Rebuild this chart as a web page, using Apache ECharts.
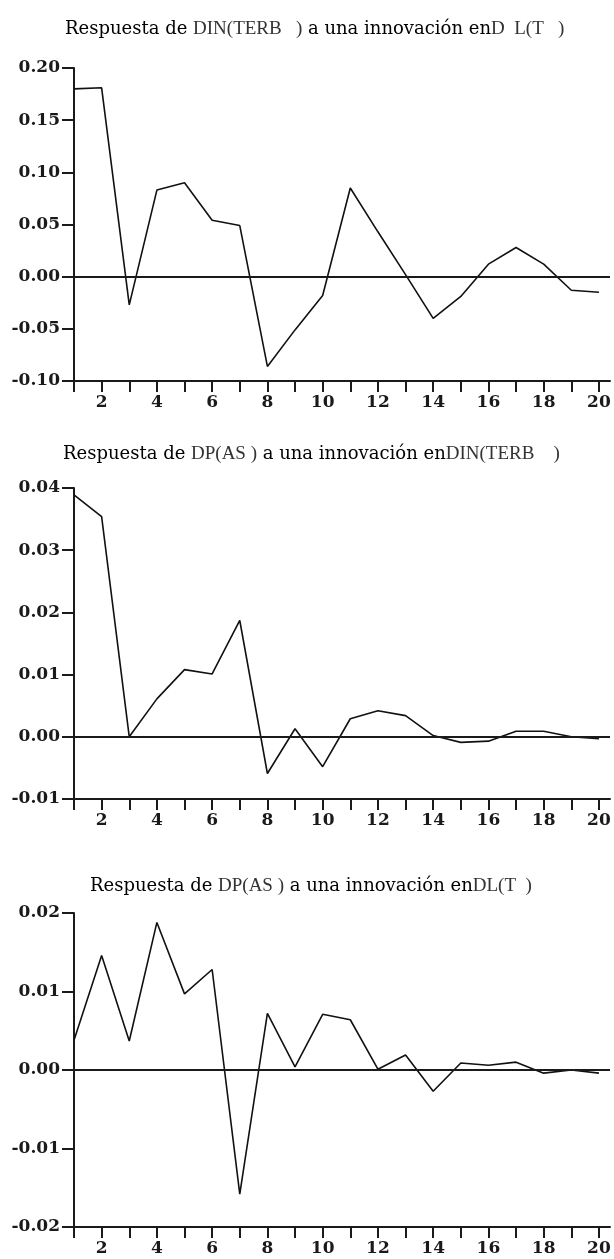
<!DOCTYPE html>
<html>
<head>
<meta charset="utf-8">
<script src="https://cdn.jsdelivr.net/npm/echarts@6/dist/echarts.min.js"></script>
<style>
html,body{margin:0;padding:0;background:#fff;}
#c{width:614px;height:1259px;}
</style>
</head>
<body>
<div id="c"></div>
<script>
// Horizon (periods)
const periods = [1,2,3,4,5,6,7,8,9,10,11,12,13,14,15,16,17,18,19,20];
const xTickValues = [1,2,3,4,5,6,7,8,9,10,11,12,13,14,15,16,17,18,19,20];
const xLabelValues = [2,4,6,8,10,12,14,16,18,20];

// Panel 1: Respuesta de DIN(TERB) a una innovación en DL(T)
const irf1 = [0.180, 0.181, -0.027, 0.083, 0.090, 0.054, 0.049, -0.086, -0.051, -0.018,
              0.085, 0.043, 0.002, -0.040, -0.019, 0.012, 0.028, 0.012, -0.013, -0.015];
// Panel 2: Respuesta de DP(AS) a una innovación en DIN(TERB)
const irf2 = [0.0389, 0.0354, 0.0000, 0.0061, 0.0108, 0.0101, 0.0187, -0.0059, 0.0013, -0.0048,
              0.0029, 0.0042, 0.0034, 0.0002, -0.0009, -0.0007, 0.0009, 0.0009, 0.0000, -0.0003];
// Panel 3: Respuesta de DP(AS) a una innovación en DL(T)
const irf3 = [0.0038, 0.0146, 0.0037, 0.0188, 0.0097, 0.0128, -0.0158, 0.0072, 0.0004, 0.0071,
              0.0064, 0.0001, 0.0019, -0.0027, 0.0009, 0.0006, 0.0010, -0.0004, 0.0000, -0.0004];

// Y axis settings per panel
const yMin = [-0.10, -0.01, -0.02];
const yMax = [0.20, 0.04, 0.02];
const yStep = [0.05, 0.01, 0.01];

// Titles (segments)
const titles = [
  ['Respuesta de ', 'DIN(TERB   )', ' a una innovación en', 'D  L(T   )'],
  ['Respuesta de ', 'DP(AS )', ' a una innovación en', 'DIN(TERB    )'],
  ['Respuesta de ', 'DP(AS )', ' a una innovación en', 'DL(T  )']
];

const series = [irf1, irf2, irf3];
const gridTops = [68, 488, 913];
const gridHeights = [313, 311, 314];
const titleTops = [20, 445, 877];
const titleLefts = [65, 63, 90];

const serif = '"DejaVu Serif", "Liberation Serif", serif';
const ink = '#1a1a1a';

const chart = echarts.init(document.getElementById('c'), null, {renderer: 'canvas'});

const option = {
  backgroundColor: '#ffffff',
  animation: false,
  title: titles.map((t, i) => ({
    left: titleLefts[i],
    top: titleTops[i],
    padding: 0,
    text: '{a|' + t[0] + '}{b|' + t[1] + '}{a|' + t[2] + '}{b|' + t[3] + '}',
    textStyle: {
      rich: {
        a: {fontFamily: serif, fontSize: 18, color: '#000', fontWeight: 'normal'},
        b: {fontFamily: '"Liberation Serif", serif', fontSize: 19, color: '#333', fontWeight: 'normal'}
      }
    }
  })),
  grid: gridTops.map((t, i) => ({
    left: 74, right: 4, top: t, height: gridHeights[i], containLabel: false
  })),
  xAxis: [0,1,2].map(i => ({
    type: 'value',
    gridIndex: i,
    min: 1,
    max: 20.4,
    interval: 1,
    splitLine: {show: false},
    axisLine: {show: true, onZero: false, lineStyle: {color: ink, width: 2}},
    axisTick: {show: true, inside: false, length: 11, customValues: xTickValues,
               lineStyle: {color: ink, width: 2}},
    axisLabel: {show: true, customValues: xLabelValues, margin: 13,
                fontFamily: serif, fontWeight: 'bold', fontSize: 17, color: ink,
                formatter: v => String(v)}
  })),
  yAxis: [0,1,2].map(i => ({
    type: 'value',
    gridIndex: i,
    min: yMin[i],
    max: yMax[i],
    interval: yStep[i],
    splitLine: {show: false},
    axisLine: {show: true, onZero: false, lineStyle: {color: ink, width: 2}},
    axisTick: {show: true, inside: false, length: 12, lineStyle: {color: ink, width: 2}},
    axisLabel: {show: true, margin: 14, fontFamily: serif, fontWeight: 'bold', fontSize: 17, color: ink,
                formatter: v => v.toFixed(2)}
  })),
  series: series.map((arr, i) => ({
    type: 'line',
    xAxisIndex: i,
    yAxisIndex: i,
    data: periods.map((p, k) => [p, arr[k]]),
    showSymbol: false,
    symbol: 'none',
    lineStyle: {color: '#111', width: 1.6},
    silent: true,
    markLine: {
      silent: true,
      symbol: ['none', 'none'],
      label: {show: false},
      lineStyle: {color: ink, width: 2, type: 'solid'},
      data: [{yAxis: 0}]
    }
  }))
};

chart.setOption(option);
</script>
</body>
</html>
